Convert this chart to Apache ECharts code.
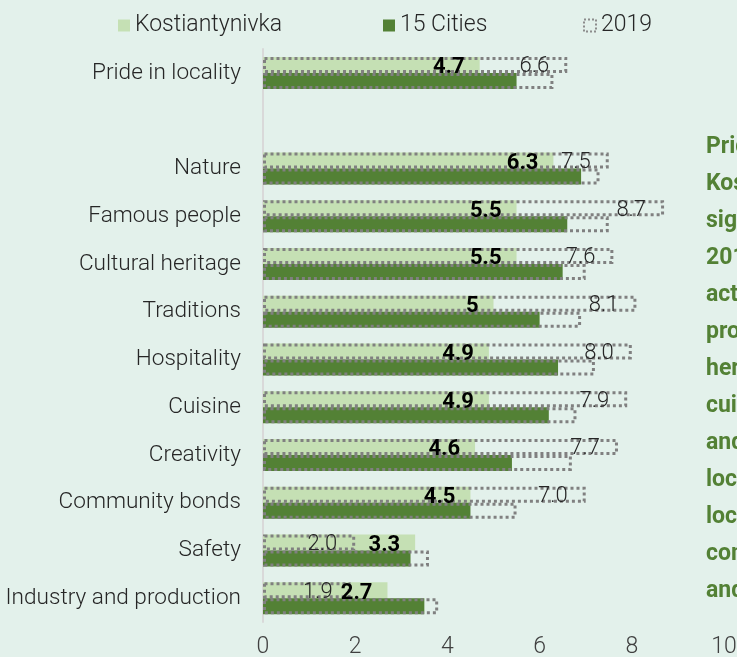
<!DOCTYPE html>
<html>
<head>
<meta charset="utf-8">
<script src="https://cdn.jsdelivr.net/npm/echarts@6/dist/echarts.min.js"></script>
<style>
  html, body { margin: 0; padding: 0; background: #e3f1eb; }
  #chart { width: 737px; height: 657px; }
</style>
</head>
<body>
<div id="chart"></div>
<script>
var categories = ['Pride in locality', '', 'Nature', 'Famous people', 'Cultural heritage', 'Traditions',
  'Hospitality', 'Cuisine', 'Creativity', 'Community bonds', 'Safety', 'Industry and production']
var kostiantynivka = [4.7, null, 6.3, 5.5, 5.5, 5, 4.9, 4.9, 4.6, 4.5, 3.3, 2.7]
var cities15 = [5.5, null, 6.9, 6.6, 6.5, 6.0, 6.4, 6.2, 5.4, 4.5, 3.2, 3.5]
var kostiantynivka2019 = [6.6, null, 7.5, 8.7, 7.6, 8.1, 8.0, 7.9, 7.7, 7.0, 2.0, 1.9]
var cities2019 = [6.3, null, 7.3, 7.5, 7.0, 6.9, 7.2, 6.8, 6.7, 5.5, 3.6, 3.8]
var xTicks = [0, 2, 4, 6, 8, 10]
var noteLines = ['Pride in locality in', 'Kostiantynivka has', 'significantly declined since',
  '2019, driven mostly by', 'activities that fell behind:', 'production, cultural',
  'heritage, hospitality,', 'cuisine, creativity', 'and community bonds;', 'locals still value nature,',
  'local safety and', 'community pride,', 'and famous people.']

var FONT = 'Roboto'
var light = '#c5e0b4'
var dark = '#538135'
var grey = '#808080'

var chart = echarts.init(document.getElementById('chart'))

var outlineStyle = {
  color: 'transparent',
  borderColor: grey,
  borderWidth: 3,
  borderType: [3, 3]
}

function legendAt(left, name, itemStyle) {
  return {
    left: left,
    top: 14,
    padding: 0,
    itemWidth: 12,
    itemHeight: 12,
    selectedMode: false,
    textStyle: { fontFamily: FONT, fontSize: 23, fontWeight: 300, color: '#262626' },
    data: [itemStyle ? { name: name, icon: 'rect', itemStyle: itemStyle } : { name: name, icon: 'rect' }]
  }
}

// hidden copy of the category axis, so overlay bars land on the same slots
function hiddenAxis() {
  return { type: 'category', inverse: true, data: categories, show: false }
}

var option = {
  backgroundColor: '#e3f1eb',
  animation: false,
  legend: [
    legendAt(118, 'Kostiantynivka'),
    legendAt(383, '15 Cities'),
    legendAt(583, '2019', { color: 'transparent', borderColor: '#8c8c8c', borderWidth: 2, borderType: [2, 2] })
  ],
  grid: { left: 263, right: 13, top: 49, bottom: 35, containLabel: false, outerBoundsMode: 'none' },
  xAxis: {
    type: 'value',
    min: xTicks[0],
    max: xTicks[xTicks.length - 1],
    interval: 2,
    axisLine: { show: false },
    axisTick: { show: false },
    splitLine: { show: false },
    axisLabel: { margin: 14, fontFamily: FONT, fontSize: 23, fontWeight: 300, color: '#404040' }
  },
  yAxis: [
    {
      type: 'category',
      inverse: true,
      data: categories,
      axisTick: { show: false },
      axisLine: { show: true, lineStyle: { color: '#d9d9d9', width: 2 } },
      axisLabel: { margin: 22, fontFamily: FONT, fontSize: 22.6, fontWeight: 300, color: '#262626' }
    },
    hiddenAxis(),
    hiddenAxis()
  ],
  series: [
    {
      name: 'Kostiantynivka',
      type: 'bar',
      yAxisIndex: 0,
      data: kostiantynivka,
      barWidth: 16,
      barGap: '0%',
      itemStyle: { color: light },
      z: 2
    },
    {
      name: '15 Cities',
      type: 'bar',
      yAxisIndex: 0,
      data: cities15,
      barWidth: 16,
      barGap: '0%',
      itemStyle: { color: dark },
      z: 2
    },
    {
      name: '2019',
      type: 'bar',
      yAxisIndex: 1,
      data: kostiantynivka2019,
      barWidth: 16,
      barGap: '0%',
      itemStyle: outlineStyle,
      z: 3,
      label: {
        show: true,
        position: 'insideRight',
        distance: 18,
        offset: [0, 2],
        fontFamily: FONT,
        fontSize: 22,
        fontWeight: 300,
        color: '#262626',
        formatter: function (p) { return p.value.toFixed(1) }
      }
    },
    {
      name: '2019',
      type: 'bar',
      yAxisIndex: 1,
      data: cities2019,
      barWidth: 16,
      barGap: '0%',
      itemStyle: outlineStyle,
      z: 3
    },
    // labels of the current Kostiantynivka values, drawn above the dotted outlines
    {
      name: 'kLabels',
      type: 'bar',
      yAxisIndex: 2,
      data: kostiantynivka,
      barWidth: 16,
      barGap: '0%',
      itemStyle: { color: 'transparent' },
      z: 5,
      label: {
        show: true,
        position: 'insideRight',
        distance: 15,
        offset: [0, 3],
        fontFamily: FONT,
        fontSize: 22,
        fontWeight: 'bold',
        color: '#000'
      }
    },
    {
      name: 'slot',
      type: 'bar',
      yAxisIndex: 2,
      data: categories.map(function () { return null }),
      barWidth: 16,
      barGap: '0%',
      z: 5
    }
  ],
  graphic: [
    {
      type: 'text',
      left: 706,
      top: 129,
      style: {
        text: noteLines.join('\n'),
        fontFamily: FONT,
        fontSize: 23,
        fontWeight: 'bold',
        lineHeight: 37,
        fill: dark
      }
    }
  ]
}

chart.setOption(option)
</script>
</body>
</html>
